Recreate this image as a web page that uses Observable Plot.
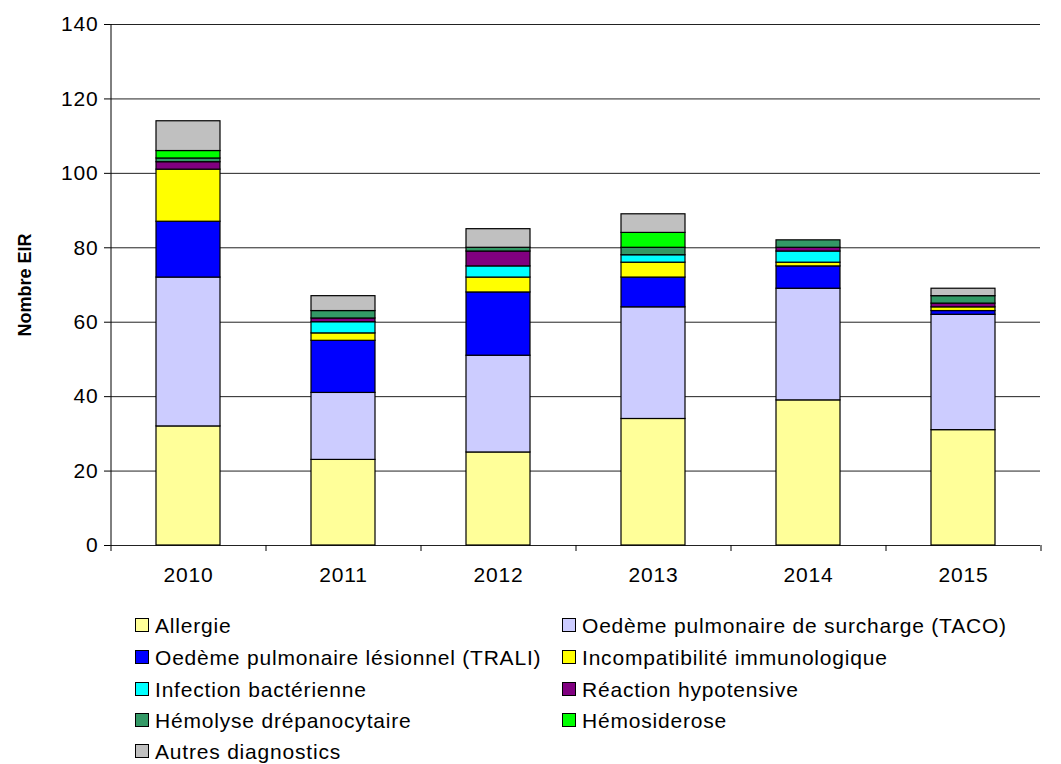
<!DOCTYPE html>
<html>
<head>
<meta charset="utf-8">
<script src="https://cdn.jsdelivr.net/npm/d3@7"></script>
<script src="https://cdn.jsdelivr.net/npm/@observablehq/plot@0.6"></script>
<style>
  body { margin: 0; background: #fff; font-family: "Liberation Sans", Arial, sans-serif; }
  #wrap { position: relative; width: 1061px; height: 764px; }
  #wrap svg [aria-label$="tick label"] { font-size: 21px !important; letter-spacing: 0.8px; }
  #legend { position: absolute; left: 0; top: 0; width: 1061px; height: 764px; pointer-events: none; }
  .item { position: absolute; font-size: 21px; letter-spacing: 0.8px; color: #000; line-height: 26px; white-space: nowrap; }
  .sw { display: inline-block; width: 12px; height: 12px; border: 1px solid #000; margin-right: 6px; vertical-align: 1px; }
</style>
</head>
<body>
<div id="wrap"></div>
<script>
const years = ["2010", "2011", "2012", "2013", "2014", "2015"];
const seriesNames = [
  "Allergie",
  "Oedème pulmonaire de surcharge (TACO)",
  "Oedème pulmonaire lésionnel (TRALI)",
  "Incompatibilité immunologique",
  "Infection bactérienne",
  "Réaction hypotensive",
  "Hémolyse drépanocytaire",
  "Hémosiderose",
  "Autres diagnostics"
];
const seriesColors = ["#FFFF99", "#CCCCFF", "#0000FF", "#FFFF00", "#00FFFF", "#800080", "#339966", "#00FF00", "#C0C0C0"];
const allergie     = [32, 23, 25, 34, 39, 31];
const taco         = [40, 18, 26, 30, 30, 31];
const trali        = [15, 14, 17, 8, 6, 1];
const incompat     = [14, 2, 4, 4, 1, 1];
const infection    = [0, 3, 3, 2, 3, 0];
const hypotensive  = [2, 1, 4, 0, 1, 1];
const hemolyse     = [1, 2, 1, 2, 2, 2];
const hemosiderose = [2, 0, 0, 4, 0, 0];
const autres       = [8, 4, 5, 5, 0, 2];
const yTicks = [0, 20, 40, 60, 80, 100, 120, 140];
const yLabel = ["Nombre EIR"];

const seriesValues = [allergie, taco, trali, incompat, infection, hypotensive, hemolyse, hemosiderose, autres];
const rows = [];
years.forEach((yr, i) => {
  seriesNames.forEach((s, j) => {
    const v = seriesValues[j][i];
    if (v > 0) rows.push({year: yr, series: s, value: v});
  });
});

const half = 930 / years.length / 2;

const chart = Plot.plot({
  width: 1061,
  height: 600,
  marginLeft: 110,
  marginRight: 21,
  marginTop: 24,
  marginBottom: 55,
  style: {fontFamily: "'Liberation Sans', Arial, sans-serif", fontSize: "17px", color: "#000", background: "#fff"},
  x: {domain: years, paddingInner: 0.59, paddingOuter: 0.295, label: null},
  y: {domain: [0, 140], label: null},
  color: {domain: seriesNames, range: seriesColors},
  marks: [
    Plot.ruleY(yTicks, {stroke: "#222", strokeWidth: 1}),
    Plot.barY(rows, {x: "year", y: "value", fill: "series", stroke: "#000", strokeWidth: 1.2, order: seriesNames}),
    Plot.ruleX(years, {x: d => d, dx: -half, y1: 0, y2: 0, insetBottom: -6, stroke: "#000"}),
    Plot.ruleX([years[years.length - 1]], {x: d => d, dx: half, y1: 0, y2: 0, insetBottom: -6, stroke: "#000"}),
    Plot.ruleX([years[0]], {x: d => d, dx: -half, y1: 0, y2: 140, stroke: "#000"}),
    Plot.axisY({ticks: yTicks, tickSize: 6, tickPadding: 6, label: null, fontSize: 21}),
    Plot.axisX({tickSize: 0, tickPadding: 22, label: null, fontSize: 21}),
    Plot.text(yLabel, {frameAnchor: "left", textAnchor: "middle", dx: -85, rotate: -90, fontWeight: "bold", fontSize: 18, fill: "#000"})
  ]
});
const wrap = document.getElementById("wrap");
wrap.appendChild(chart);

const legend = document.createElement("div");
legend.id = "legend";
const rowsY = [613, 645, 677, 708, 739];
seriesNames.forEach((s, k) => {
  const col = k % 2, r = Math.floor(k / 2);
  const el = document.createElement("div");
  el.className = "item";
  el.style.left = (col === 0 ? 135 : 562) + "px";
  el.style.top = rowsY[r] + "px";
  const sw = document.createElement("span");
  sw.className = "sw";
  sw.style.background = seriesColors[k];
  el.appendChild(sw);
  el.appendChild(document.createTextNode(s));
  legend.appendChild(el);
});
wrap.appendChild(legend);
</script>
</body>
</html>
